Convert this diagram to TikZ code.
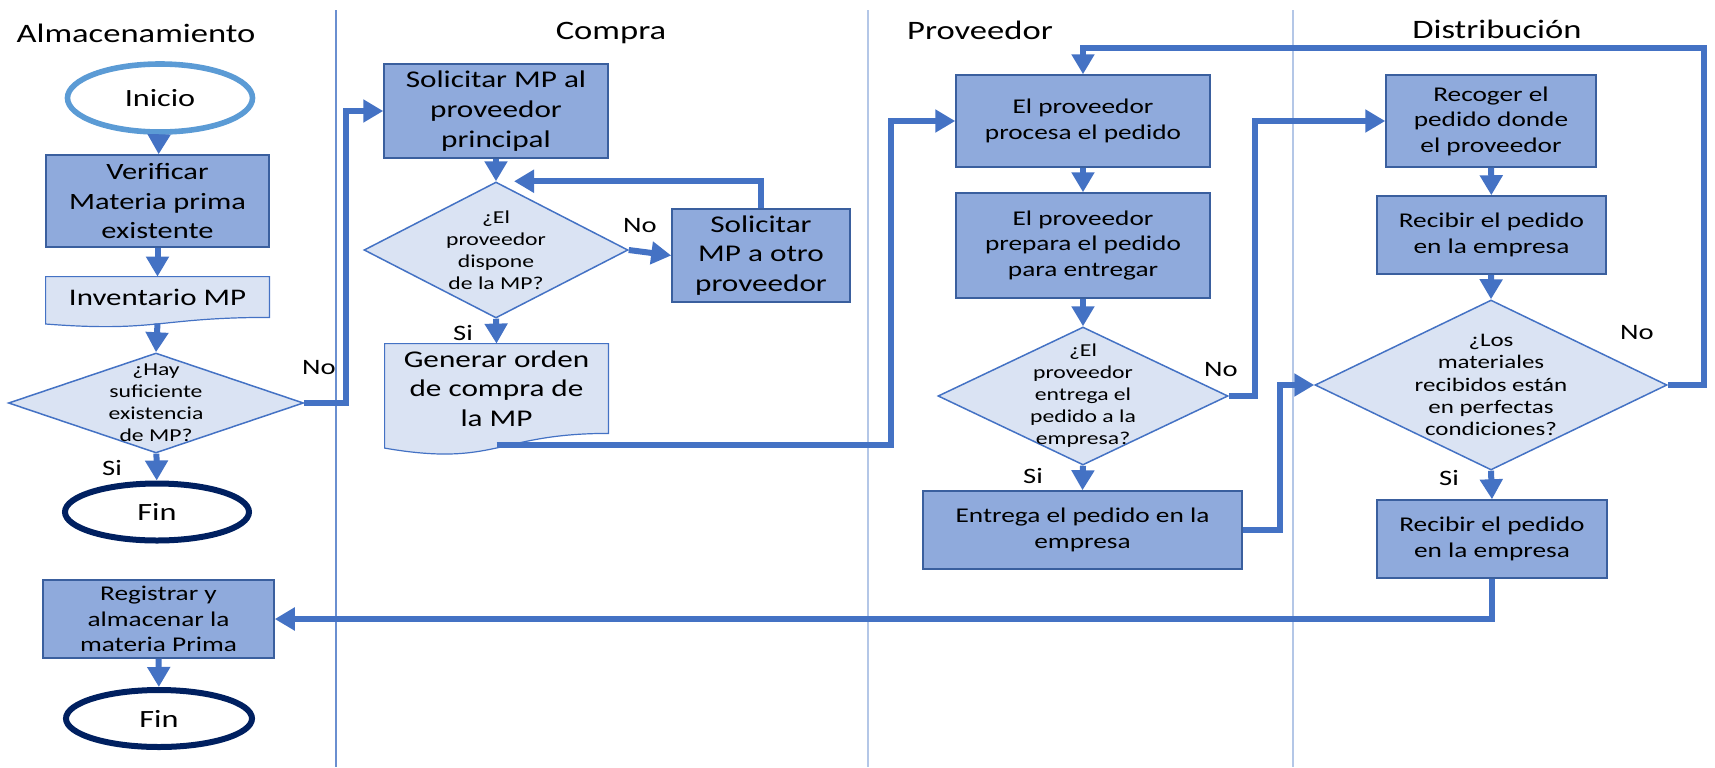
\documentclass[tikz,border=0pt]{standalone}
\usepackage{fontspec}
\setmainfont{Carlito}[FakeStretch=1.3]
\usetikzlibrary{shapes.geometric,arrows.meta,calc}
\definecolor{azulflecha}{HTML}{4472C4}
\definecolor{azulproceso}{HTML}{8FAADC}
\definecolor{azulclaro}{HTML}{DAE3F3}
\definecolor{bordeproceso}{HTML}{3A5F9E}
\definecolor{azulinicio}{HTML}{5B9BD5}
\definecolor{azulfin}{HTML}{002060}
\definecolor{carrilclaro}{HTML}{B4C7E7}
\definecolor{carriloscuro}{HTML}{6A8FD0}

\begin{document}
\begin{tikzpicture}[
            x=0.5pt,   % 1 unidad = 1 px
            y=-0.5pt,  % y hacia abajo
            titulo/.style={font=\fontsize{13.3pt}{16pt}\selectfont},
            proceso/.style={rectangle, draw=bordeproceso, line width=0.75pt, fill=azulproceso, inner sep=0pt, align=center},
            decision/.style={diamond, draw=azulflecha, line width=0.75pt, fill=azulclaro, inner sep=0pt},
            textodec/.style={align=center, inner sep=0pt, font=\fontsize{9.1pt}{11pt}\selectfont},
            documento/.style={rectangle, inner sep=0pt},
            docborde/.style={draw=azulflecha, line width=0.6pt, fill=azulclaro},
            terminal/.style={ellipse, fill=white, inner sep=0pt, font=\fontsize{12.4pt}{14pt}\selectfont},
            respuesta/.style={inner sep=0pt, font=\fontsize{11pt}{13pt}\selectfont},
            grande/.style={font=\fontsize{12pt}{14.8pt}\selectfont},
            mediano/.style={font=\fontsize{10.5pt}{12.8pt}\selectfont},
            flecha/.style={draw=azulflecha, line width=3pt, -{Triangle[width=11pt,length=10pt]}}
        ]
            \useasboundingbox (0,0) rectangle (1715,767);

            % Carriles
            \draw[carriloscuro, line width=0.6pt] (336,10) -- (336,767);
            \draw[carrilclaro, line width=0.9pt] (868,10) -- (868,767);
            \draw[carrilclaro, line width=0.9pt] (1293,10) -- (1293,767);

            % Titulos
            \node[titulo] (tAlm) at (136,33) {Almacenamiento};
            \node[titulo] (tCom) at (611,33) {Compra};
            \node[titulo] (tPro) at (980,30) {Proveedor};
            \node[titulo] (tDis) at (1497,29) {Distribución};

            % Almacenamiento
            \node[terminal, draw=azulinicio, line width=2.8pt, minimum width=92.5pt, minimum height=34pt] (inicio) at (160,98) {Inicio};
            \node[proceso, minimum width=111.5pt, minimum height=46pt, font=\fontsize{11.7pt}{14.6pt}\selectfont] (verificar) at (157.5,201) {Verificar\\Materia prima\\existente};
            \node[documento, minimum width=111.5pt, minimum height=20pt] (inventario) at (157.5,297) {};
            \draw[docborde] (inventario.north west) -- (inventario.north east) -- (inventario.south east)
                .. controls (inventario.south) and ($(inventario.south)+(0,15.2)$) .. ($(inventario.south west)+(0,6.6)$) -- cycle;
            \node[font=\fontsize{11.9pt}{14pt}\selectfont] (inventariotxt) at (inventario) {Inventario MP};
            \coordinate (invsale) at ($(inventario.south)+(0,6)$);
            \node[decision, minimum width=147.5pt, minimum height=50pt] (hay) at (156,403) {};
            \node[textodec] (haytxt) at (hay) {¿Hay\\suficiente\\existencia\\de MP?};
            \node[terminal, draw=azulfin, line width=3pt, minimum width=92pt, minimum height=28.5pt] (fin) at (157,512) {Fin};
            \node[proceso, mediano, minimum width=115.5pt, minimum height=39pt] (registrar) at (158.5,619) {Registrar y\\almacenar la\\materia Prima};
            \node[terminal, draw=azulfin, line width=3pt, minimum width=93pt, minimum height=28.5pt] (findos) at (159,718.5) {Fin};

            % Compra
            \node[proceso, grande, minimum width=112pt, minimum height=47pt] (solicitar) at (496,111) {Solicitar MP al\\proveedor\\principal};
            \node[decision, minimum width=132pt, minimum height=68pt] (dispone) at (496,250) {};
            \node[textodec] (disponetxt) at (dispone) {¿El\\proveedor\\dispone\\de la MP?};
            \node[proceso, grande, minimum width=89pt, minimum height=46.5pt] (otro) at (761,255.5) {Solicitar\\MP a otro\\proveedor};
            \node[documento, minimum width=111.5pt, minimum height=44.5pt] (generar) at (496.5,388.5) {};
            \draw[docborde] (generar.north west) -- (generar.north east) -- (generar.south east)
                .. controls (generar.south) and ($(generar.south)+(0,34)$) .. ($(generar.south west)+(0,14.7)$) -- cycle;
            \node[grande, align=center, inner sep=0pt] (generartxt) at (generar) {Generar orden\\de compra de\\la MP};
            \coordinate (gensale) at ($(generar.south)+(0,12)$);

            % Proveedor
            \node[proceso, mediano, minimum width=127pt, minimum height=46pt] (procesa) at (1083,121) {El proveedor\\procesa el pedido};
            \node[proceso, mediano, minimum width=127pt, minimum height=52.5pt] (prepara) at (1083,245.5) {El proveedor\\prepara el pedido\\para entregar};
            \node[decision, minimum width=145pt, minimum height=69pt] (entrega) at (1083,396) {};
            \node[textodec] (entregatxt) at (entrega) {¿El\\proveedor\\entrega el\\pedido a la\\empresa?};
            \node[proceso, mediano, minimum width=159.5pt, minimum height=39pt] (entregado) at (1082.5,530) {Entrega el pedido en la\\empresa};

            % Distribucion
            \node[proceso, mediano, minimum width=105pt, minimum height=46pt] (recoger) at (1491,121) {Recoger el\\pedido donde\\el proveedor};
            \node[proceso, mediano, minimum width=114.5pt, minimum height=39pt] (recibir) at (1491.5,235) {Recibir el pedido\\en la empresa};
            \node[decision, minimum width=176pt, minimum height=85pt] (perfectas) at (1491,385) {};
            \node[textodec, font=\fontsize{9.6pt}{11.2pt}\selectfont] (perfectastxt) at (perfectas) {¿Los\\materiales\\recibidos están\\en perfectas\\condiciones?};
            \node[proceso, mediano, minimum width=115pt, minimum height=39pt] (recibirfin) at (1492,539) {Recibir el pedido\\en la empresa};

            % Respuestas
            \node[respuesta] (nouno) at (319,368) {No};
            \node[respuesta] (siuno) at (112,468) {Si};
            \node[respuesta] (nodos) at (640,226) {No};
            \node[respuesta] (sidos) at (463,333) {Si};
            \node[respuesta] (notres) at (1221,370) {No};
            \node[respuesta] (sitres) at (1033,476) {Si};
            \node[respuesta] (nocuatro) at (1637,333) {No};
            \node[respuesta] (sicuatro) at (1449,478) {Si};

            % Flechas
            \draw[flecha] (inicio) -- (verificar);
            \draw[flecha] (verificar) -- (inventario);
            \draw[flecha] (invsale) -- (hay.north);
            \draw[flecha] (hay) -- (fin);
            \draw[flecha] (hay.east) -- ++(42,0) |- (solicitar.west);
            \draw[flecha] (registrar) -- (findos);
            \draw[flecha] (solicitar) -- (dispone.north);
            \draw[flecha] (dispone.east) -- (otro.west);
            \draw[flecha] (otro.north) |- ([xshift=9pt]dispone.north);
            \draw[flecha] (dispone.south) -- (generar.north);
            \draw[flecha] (gensale) -| ([xshift=-32pt]procesa.west) -- (procesa.west);
            \draw[flecha] (procesa) -- (prepara);
            \draw[flecha] (prepara) -- (entrega.north);
            \draw[flecha] (entrega.east) -- ++(26,0) |- (recoger.west);
            \draw[flecha] (entrega.south) -- (entregado.north);
            \draw[flecha] (entregado.east) -- ++(37,0) |- (perfectas.west);
            \draw[flecha] (recoger) -- (recibir);
            \draw[flecha] (recibir) -- (perfectas.north);
            \draw[flecha] (perfectas.east) -- ++(36,0) -- ++(0,-337) -| (procesa.north);
            \draw[flecha] (perfectas.south) -- (recibirfin.north);
            \draw[flecha] (recibirfin.south) |- (registrar.east);
        \end{tikzpicture}
\end{document}
